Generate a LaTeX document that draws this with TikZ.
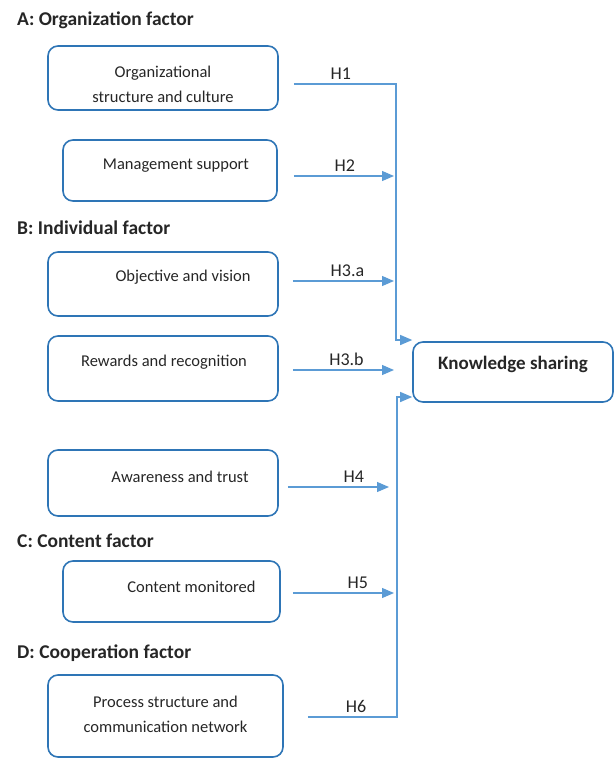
\documentclass[tikz,border=0pt]{standalone}
\usepackage{fontspec}
\setmainfont{Carlito}
\usetikzlibrary{arrows.meta,positioning}
\definecolor{boxblue}{RGB}{46,117,182}
\definecolor{lineblue}{RGB}{91,155,213}
\tikzset{
  box/.style={draw=boxblue, line width=1.6pt, rounded corners=10pt,
    minimum width=230pt, minimum height=64pt, inner sep=0pt},
  boxtxt/.style={font=\fontsize{16.5}{25}\selectfont, align=center, text=black!85},
  head/.style={anchor=west, inner sep=0pt, text=black!85,
    font=\fontsize{19.5}{22}\selectfont\bfseries},
  conn/.style={draw=lineblue, line width=1.2pt},
  arr/.style={conn, shorten >=2pt, -{Triangle[length=12pt,width=10pt]}},
  hlbl/.style={font=\fontsize{18}{20}\selectfont, above=4pt, inner sep=0pt, text=black!85}
}

\begin{document}
\begin{tikzpicture}[x=1pt,y=-1pt]
    \useasboundingbox (0,0) rectangle (616,758);
    % factor groups
    \node[head] (ha) at (17,20) {A: Organization factor};
    \node[head] (hb) at (17,228) {B: Individual factor};
    \node[head] (hc) at (17,541) {C: Content factor};
    \node[head] (hd) at (17,653) {D: Cooperation factor};
    % factor boxes
    \node[box, label={[boxtxt, yshift=-6pt]center:{Organizational\\structure and culture}}] (org) at (163,78) {};
    \node[box, minimum width=214pt, minimum height=61pt,
      label={[boxtxt, xshift=6pt, yshift=5pt]center:Management support}] (mgmt) at (170,170.5) {};
    \node[box, label={[boxtxt, xshift=20pt, yshift=7pt]center:Objective and vision}] (obj) at (163,284) {};
    \node[box, minimum height=65pt,
      label={[boxtxt, xshift=1pt, yshift=6pt]center:Rewards and recognition}] (rew) at (163,368.5) {};
    \node[box, minimum height=66pt,
      label={[boxtxt, xshift=17pt, yshift=6pt]center:Awareness and trust}] (aware) at (163,483) {};
    \node[box, minimum width=217pt, minimum height=61pt,
      label={[boxtxt, xshift=20pt, yshift=4.5pt]center:Content monitored}] (cont) at (171.5,591.5) {};
    \node[box, minimum width=235pt, minimum height=82pt,
      label={[boxtxt, yshift=1.5pt]center:{Process structure and\\communication network}}] (proc) at (165.5,716) {};
    % outcome
    \node[box, minimum width=200pt, minimum height=60pt,
      label={[boxtxt, yshift=8pt, font=\fontsize{19}{22}\selectfont\bfseries]center:Knowledge sharing}] (ks) at (513,372) {};
    % trunks
    \coordinate (jtop) at (396,340);
    \coordinate (jbot) at (397,397);
    \draw[arr, shorten >=0pt] ([xshift=15pt,yshift=-6pt]org.east) -| node[hlbl, pos=0.23] (l1) {H1} (jtop) -- (jtop -| ks.west);
    \draw[arr] ([xshift=16pt,yshift=-5.5pt]mgmt.east) -- node[hlbl, pos=0.5] (l2) {H2} ([yshift=-5.5pt]mgmt.east -| jtop);
    \draw[arr] ([xshift=14pt,yshift=3pt]obj.east) -- node[hlbl, pos=0.53] (l3a) {H3.a} ([yshift=3pt]obj.east -| jtop);
    \draw[arr] ([xshift=14pt,yshift=-1.5pt]rew.east) -- node[hlbl, pos=0.52] (l3b) {H3.b} ([yshift=-1.5pt]rew.east -| jtop);
    \draw[arr, shorten >=7pt] ([xshift=9pt,yshift=-4pt]aware.east) -- node[hlbl, pos=0.61] (l4) {H4} ([yshift=-4pt]aware.east -| jtop);
    \draw[arr] ([xshift=12pt,yshift=-1.5pt]cont.east) -- node[hlbl, pos=0.63] (l5) {H5} ([yshift=-1.5pt]cont.east -| jtop);
    \draw[arr, shorten >=0pt] ([xshift=24pt,yshift=-1pt]proc.east) -| node[hlbl, pos=0.27] (l6) {H6} (jbot) -- (jbot -| ks.west);
\end{tikzpicture}
\end{document}
